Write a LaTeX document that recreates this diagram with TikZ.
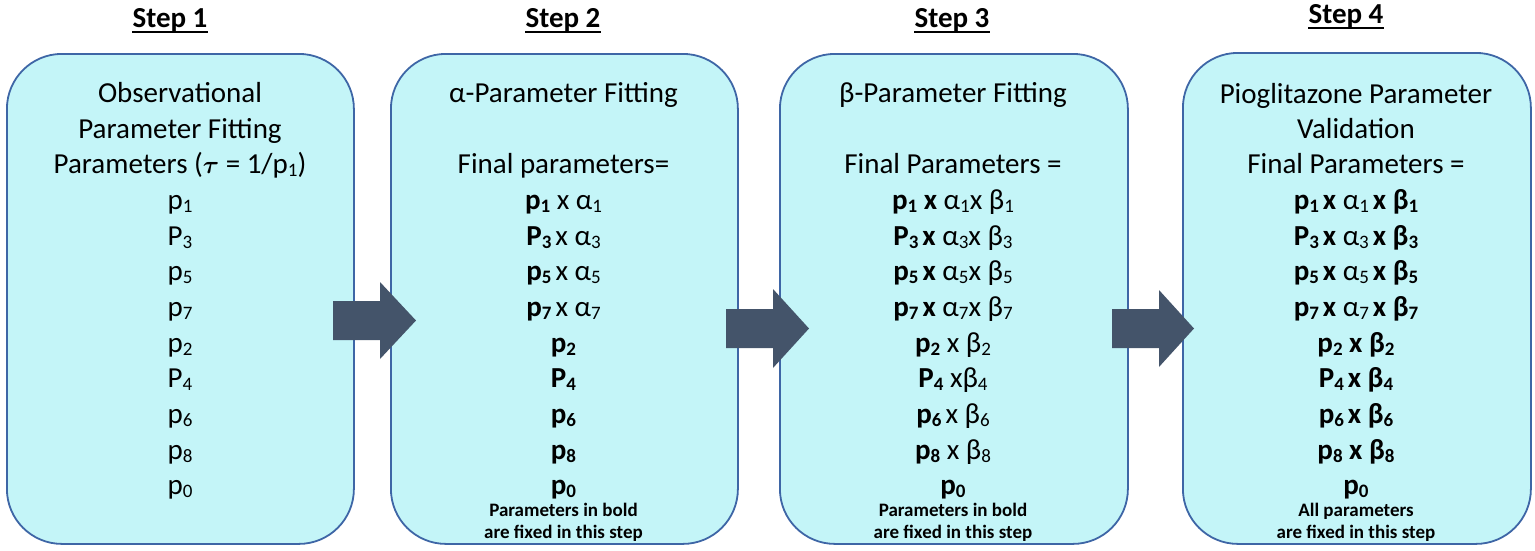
\documentclass[tikz,border=0pt]{standalone}
\usepackage{fontspec}
\setmainfont{Carlito}
\usepackage{bm}
\definecolor{boxfill}{RGB}{196,245,248}
\definecolor{boxblue}{RGB}{62,102,166}
\definecolor{arrowcol}{RGB}{68,84,106}
\newcommand\sbs[1]{\raisebox{-0.13em}{\fontsize{19}{19}\selectfont #1}}
\newcommand\tsp{\hspace{4pt}}
\tikzset{
  stepbox/.style={draw=boxblue, line width=1.8pt, fill=boxfill, rounded corners=55pt, anchor=north west, inner sep=0pt},
  bigarrow/.style={fill=arrowcol, draw=none},
  txtline/.style={anchor=base, inner sep=0pt, font=\fontsize{29}{35}\selectfont},
  noteline/.style={anchor=base, inner sep=0pt, font=\fontsize{19}{22}\selectfont\bfseries},
  steptitle/.style={anchor=base, inner sep=0pt, font=\fontsize{29}{35}\selectfont\bfseries},
  uline/.style={line width=2pt, black}
}
\begin{document}
\begin{tikzpicture}[x=1pt,y=-1pt]
\useasboundingbox (0,0) rectangle (1535,550);

% boxes
\node[stepbox, minimum width=347pt, minimum height=490pt] (b1) at (6,53) {};
\node[stepbox, minimum width=347pt, minimum height=490pt] (b2) at (390,53) {};
\node[stepbox, minimum width=348pt, minimum height=490pt] (b3) at (779,53) {};
\node[stepbox, minimum width=348pt, minimum height=491pt] (b4) at (1182,52) {};

% titles
\node[steptitle] (t1) at (170,27) {Step 1};
\node[steptitle] (t2) at (563,27) {Step 2};
\node[steptitle] (t3) at (952,27) {Step 3};
\node[steptitle] (t4) at (1346,23) {Step 4};
\foreach \t in {t1,t2,t3,t4}
  \draw[uline] ([yshift=-5pt]\t.base west) -- ([yshift=-5pt]\t.base east);

% box 1
\node[txtline] (a1) at (180,102) {Observational};
\node[txtline] (a2) at (180,138) {Parameter Fitting};
\node[txtline] (a3) at (180,173) {Parameters ($\bm{\tau}$ = 1/p\sbs{1})};
\node[txtline] (a4) at (180,209) {p\sbs{1}};
\node[txtline] (a5) at (180,245) {P\sbs{3}};
\node[txtline] (a6) at (180,280) {p\sbs{5}};
\node[txtline] (a7) at (180,316) {p\sbs{7}};
\node[txtline] (a8) at (180,352) {p\sbs{2}};
\node[txtline] (a9) at (180,387) {P\sbs{4}};
\node[txtline] (a10) at (180,423) {p\sbs{6}};
\node[txtline] (a11) at (180,459) {p\sbs{8}};
\node[txtline] (a12) at (180,494) {p\sbs{0}};

% box 2
\node[txtline] (c1) at (563.5,102) {α-Parameter Fitting};
\node[txtline] (c3) at (563.5,173) {Final parameters=};
\node[txtline] (c4) at (563.5,209) {\textbf{p\sbs{1}} x α\sbs{1}};
\node[txtline] (c5) at (563.5,245) {\textbf{P\sbs{3}}\tsp x α\sbs{3}};
\node[txtline] (c6) at (563.5,280) {\textbf{p\sbs{5}}\tsp x α\sbs{5}};
\node[txtline] (c7) at (563.5,316) {\textbf{p\sbs{7}}\tsp x α\sbs{7}};
\node[txtline] (c8) at (563.5,352) {\textbf{p\sbs{2}}};
\node[txtline] (c9) at (563.5,387) {\textbf{P\sbs{4}}};
\node[txtline] (c10) at (563.5,423) {\textbf{p\sbs{6}}};
\node[txtline] (c11) at (563.5,459) {\textbf{p\sbs{8}}};
\node[txtline] (c12) at (563.5,494) {\textbf{p\sbs{0}}};
\node[noteline] (c13) at (563.5,516) {Parameters in bold};
\node[noteline] (c14) at (563.5,538) {are fixed in this step};

% box 3
\node[txtline] (d1) at (953,102) {β-Parameter Fitting};
\node[txtline] (d3) at (953,173) {Final Parameters =};
\node[txtline] (d4) at (953,209) {\textbf{p\sbs{1} x} α\sbs{1}x β\sbs{1}};
\node[txtline] (d5) at (953,245) {\textbf{P\sbs{3}\tsp x} α\sbs{3}x β\sbs{3}};
\node[txtline] (d6) at (953,280) {\textbf{p\sbs{5}\tsp x} α\sbs{5}x β\sbs{5}};
\node[txtline] (d7) at (953,316) {\textbf{p\sbs{7}\tsp x} α\sbs{7}x β\sbs{7}};
\node[txtline] (d8) at (953,352) {\textbf{p\sbs{2}} x β\sbs{2}};
\node[txtline] (d9) at (953,387) {\textbf{P\sbs{4}} xβ\sbs{4}};
\node[txtline] (d10) at (953,423) {\textbf{p\sbs{6}}\tsp x β\sbs{6}};
\node[txtline] (d11) at (953,459) {\textbf{p\sbs{8}} x β\sbs{8}};
\node[txtline] (d12) at (953,494) {\textbf{p\sbs{0}}};
\node[noteline] (d13) at (953,516) {Parameters in bold};
\node[noteline] (d14) at (953,538) {are fixed in this step};

% box 4
\node[txtline] (e1) at (1356,103) {Pioglitazone Parameter};
\node[txtline] (e2) at (1356,138) {Validation};
\node[txtline] (e3) at (1356,173) {Final Parameters =};
\node[txtline] (e4) at (1356,209) {\textbf{p\sbs{1}\tsp x} α\sbs{1}\textbf{\tsp x β\sbs{1}}};
\node[txtline] (e5) at (1356,245) {\textbf{P\sbs{3}\tsp x} α\sbs{3}\textbf{\tsp x β\sbs{3}}};
\node[txtline] (e6) at (1356,280) {\textbf{p\sbs{5}\tsp x} α\sbs{5}\textbf{\tsp x β\sbs{5}}};
\node[txtline] (e7) at (1356,316) {\textbf{p\sbs{7}\tsp x} α\sbs{7}\textbf{\tsp x β\sbs{7}}};
\node[txtline] (e8) at (1356,352) {\textbf{p\sbs{2} x β\sbs{2}}};
\node[txtline] (e9) at (1356,387) {\textbf{P\sbs{4}\tsp x β\sbs{4}}};
\node[txtline] (e10) at (1356,423) {\textbf{p\sbs{6}\tsp x β\sbs{6}}};
\node[txtline] (e11) at (1356,459) {\textbf{p\sbs{8} x β\sbs{8}}};
\node[txtline] (e12) at (1356,494) {\textbf{p\sbs{0}}};
\node[noteline] (e13) at (1356,516) {All parameters};
\node[noteline] (e14) at (1356,538) {are fixed in this step};

% block arrows
\fill[bigarrow] (333,301) -- (380,301) -- (380,282) -- (416,320.5) -- (380,359) -- (380,340) -- (333,340) -- cycle;
\fill[bigarrow] (726,309) -- (773,309) -- (773,289) -- (809,328.5) -- (773,368) -- (773,348) -- (726,348) -- cycle;
\fill[bigarrow] (1112,309) -- (1159,309) -- (1159,290) -- (1194,328.5) -- (1159,367) -- (1159,348) -- (1112,348) -- cycle;
\end{tikzpicture}
\end{document}
